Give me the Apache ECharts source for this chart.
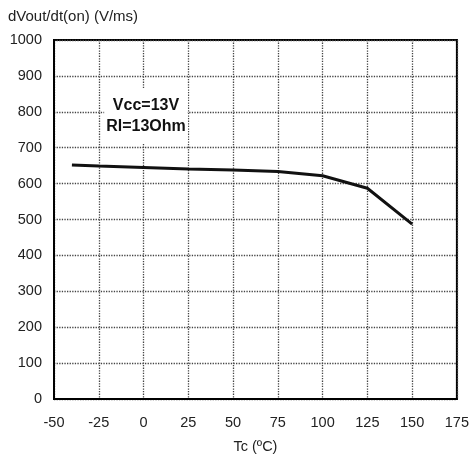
<!DOCTYPE html>
<html>
<head>
<meta charset="utf-8">
<script src="https://cdn.jsdelivr.net/npm/echarts@6/dist/echarts.min.js"></script>
<style>
  html, body { margin: 0; padding: 0; background: #fff; }
  #chart { width: 472px; height: 462px; }
</style>
</head>
<body>
<div id="chart"></div>
<script>
// Case temperature (ºC) and turn-on slew rate (V/ms)
const tempC = [-40, -25, 0, 25, 50, 75, 100, 125, 150];
const slewRate = [652, 649, 645, 641, 638, 634, 622, 587, 487];
const xTicks = [-50, -25, 0, 25, 50, 75, 100, 125, 150, 175];
const yTicks = [0, 100, 200, 300, 400, 500, 600, 700, 800, 900, 1000];
const conditionLines = ['Vcc=13V', 'Rl=13Ohm'];

const font = 'Liberation Sans, Arial, sans-serif';
const chart = echarts.init(document.getElementById('chart'), null, { renderer: 'canvas' });

const gridLine = { show: true, lineStyle: { type: 'dotted', color: '#444', width: 1.3 } };

chart.setOption({
  animation: false,
  grid: {
    left: 54, right: 15, top: 40, bottom: 63,
    show: true, borderColor: '#000', borderWidth: 2, backgroundColor: '#fff'
  },
  xAxis: {
    type: 'value',
    min: xTicks[0], max: xTicks[xTicks.length - 1], interval: 25,
    name: 'Tc (ºC)', nameLocation: 'middle', nameGap: 40,
    nameTextStyle: { fontFamily: font, fontSize: 14.5, color: '#222' },
    axisLine: { show: true, onZero: false, lineStyle: { color: '#000', width: 2 } },
    axisTick: { show: false },
    axisLabel: { fontFamily: font, fontSize: 14.5, color: '#222', margin: 16,
                 formatter: v => String(v) },
    splitLine: gridLine
  },
  yAxis: {
    type: 'value',
    min: yTicks[0], max: yTicks[yTicks.length - 1], interval: 100,
    axisLine: { show: true, onZero: false, lineStyle: { color: '#000', width: 2 } },
    axisTick: { show: false },
    axisLabel: { fontFamily: font, fontSize: 14.5, color: '#222', margin: 12,
                 formatter: v => String(v) },
    splitLine: gridLine
  },
  graphic: [
    {
      type: 'text', left: 8, top: 9,
      style: { text: 'dVout/dt(on) (V/ms)', font: '15px ' + font, fill: '#222' }
    },
    {
      type: 'text', x: 146, y: 116, z: 100,
      style: {
        text: conditionLines.join('\n'), font: 'bold 16px ' + font, fill: '#111',
        align: 'center', verticalAlign: 'middle', lineHeight: 21,
        backgroundColor: '#fff', padding: [6, 2, 6, 2]
      }
    }
  ],
  series: [{
    type: 'line',
    data: tempC.map((t, i) => [t, slewRate[i]]),
    showSymbol: false,
    lineStyle: { color: '#111', width: 3 }
  }]
});
</script>
</body>
</html>
